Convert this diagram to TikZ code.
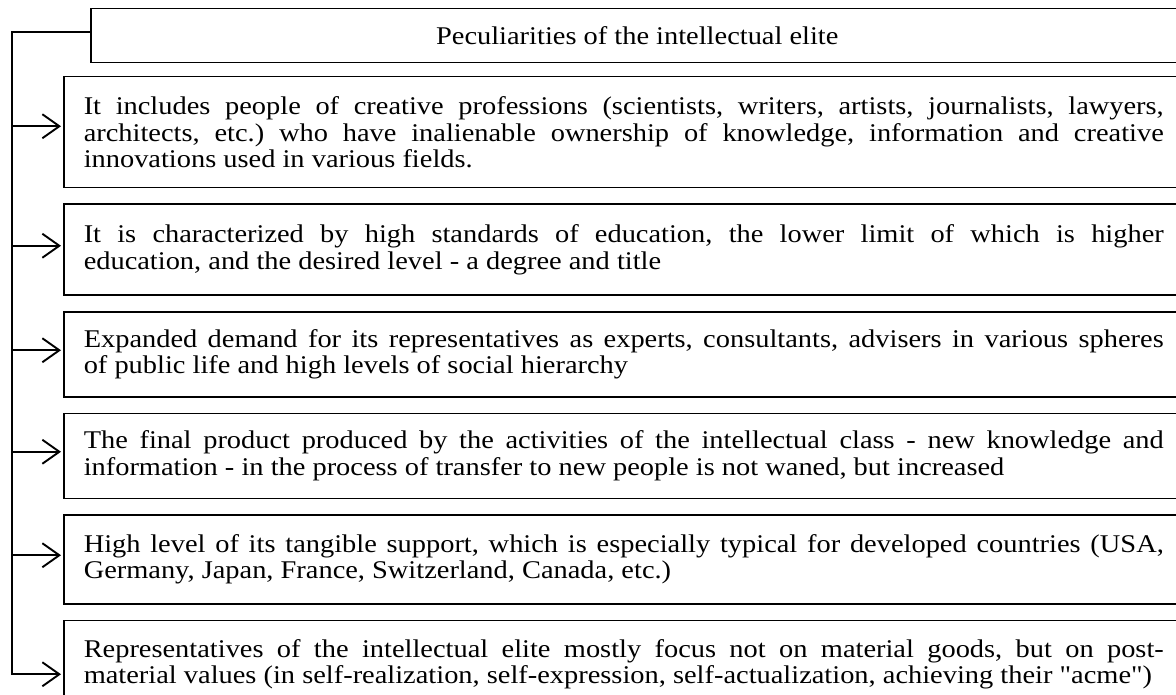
\documentclass[tikz,border=0pt]{standalone}
\usepackage{fontspec}
\setmainfont{Liberation Serif}[FakeStretch=1.114, Ligatures=TeXOff]
\usetikzlibrary{positioning, calc, arrows.meta}
\hyphenpenalty=10000
\frenchspacing
\tikzset{box text/.style = {font=\fontsize{25.5pt}{26.7pt}\selectfont}}
\tikzset{head box/.style = {draw, line width=1.5pt, box text, minimum width=1093pt, minimum height=54pt, anchor=north west}}
\tikzset{item box/.style = {draw, line width=1.5pt, box text, text width=1080pt, inner xsep=20pt, inner ysep=4pt, align=justify}}
\tikzset{feed/.style = {line width=1.9pt, -{Straight Barb[length=17pt, width=24pt]}, shorten >=2pt}}

\begin{document}
\begin{tikzpicture}[x=1pt, y=1pt]
  \useasboundingbox (0,0) rectangle (1176,-695);

  \node[head box] (title) at (90,-8) {Peculiarities of the intellectual elite};

  \node[item box, minimum height=111pt, anchor=north west] (b1) at (63,-76)
    {It includes people of creative professions (scientists, writers, artists, journalists, lawyers,\linebreak
     architects, etc.) who have inalienable ownership of knowledge, information and creative\linebreak
     innovations used in various fields.};
  \node[item box, minimum height=91pt, below=15pt of b1.south west, anchor=north west] (b2)
    {It is characterized by high standards of education, the lower limit of which is higher\linebreak
     education, and the desired level - a degree and title};
  \node[item box, minimum height=85pt, below=15pt of b2.south west, anchor=north west] (b3)
    {Expanded demand for its representatives as experts, consultants, advisers in various spheres\linebreak
     of public life and high levels of social hierarchy};
  \node[item box, minimum height=85pt, below=15pt of b3.south west, anchor=north west] (b4)
    {The final product produced by the activities of the intellectual class - new knowledge and\linebreak
     information - in the process of transfer to new people is not waned, but increased};
  \node[item box, minimum height=89pt, below=15pt of b4.south west, anchor=north west] (b5)
    {High level of its tangible support, which is especially typical for developed countries (USA,\linebreak
     Germany, Japan, France, Switzerland, Canada, etc.)};
  \node[item box, minimum height=88pt, below=15pt of b5.south west, anchor=north west] (b6)
    {Representatives of the intellectual elite mostly focus not on material goods, but on post-\linebreak
     material values (in self-realization, self-expression, self-actualization, achieving their "acme")};

  % spine from the title down to the last box
  \coordinate (spine) at (12,-31);
  \draw[feed] ([yshift=4pt]title.west) -| ($(spine |- b6.west)+(0,-10)$) -- ($(b6.west)+(0,-10)$);

  \foreach \b/\dy in {b1/6, b2/4, b3/4, b4/4, b5/4}
    \draw[feed] ($(spine |- \b.west)+(0,\dy)$) -- ($(\b.west)+(0,\dy)$);
\end{tikzpicture}
\end{document}
